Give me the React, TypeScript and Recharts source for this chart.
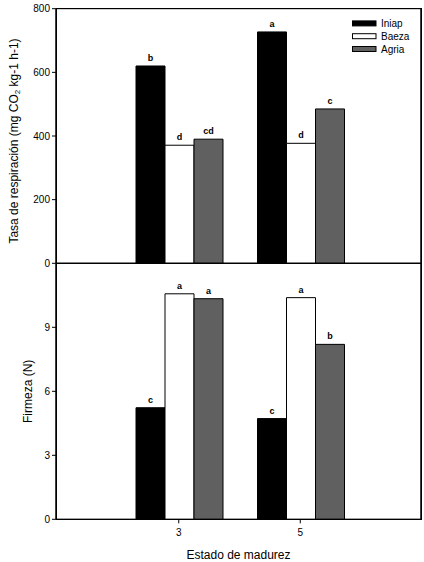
import React from 'react';
import { BarChart, Bar, XAxis, YAxis, LabelList, Legend, CartesianGrid } from 'recharts';

const stages = ['3', '5'];
const respIniap = [620, 727];
const respBaeza = [371, 377];
const respAgria = [390, 485];
const respLetters = { iniap: ['b', 'a'], baeza: ['d', 'd'], agria: ['cd', 'c'] };
const firmIniap = [5.23, 4.72];
const firmBaeza = [10.57, 10.39];
const firmAgria = [10.34, 8.2];
const firmLetters = { iniap: ['c', 'c'], baeza: ['a', 'a'], agria: ['a', 'b'] };
const respTicks = [0, 200, 400, 600, 800];
const firmTicks = [0, 3, 6, 9];
const seriesNames = ['Iniap', 'Baeza', 'Agria'];
const seriesFills = ['#000000', '#ffffff', '#606060'];

const respData = stages.map((s, i) => ({
  stage: s,
  iniap: respIniap[i],
  baeza: respBaeza[i],
  agria: respAgria[i],
  li: respLetters.iniap[i],
  lb: respLetters.baeza[i],
  la: respLetters.agria[i],
}));

const firmData = stages.map((s, i) => ({
  stage: s,
  iniap: firmIniap[i],
  baeza: firmBaeza[i],
  agria: firmAgria[i],
  li: firmLetters.iniap[i],
  lb: firmLetters.baeza[i],
  la: firmLetters.agria[i],
}));

const FONT = '"Liberation Sans", Arial, sans-serif';
const PAD = { left: 62, right: 60 };

// layout constants
const W = 424;
const M_LEFT = 8;
const Y_AXIS_W = 48;
const M_RIGHT = 2;
const R_AXIS_W = 1;
const PLOT_L = M_LEFT + Y_AXIS_W;
const PLOT_R = W - M_RIGHT - R_AXIS_W;

const H1 = 270;
const M1_TOP = 8.7;
const M1_BOTTOM = 5.7;
const X1_H = 1;
const H2 = 308;
const TOP2 = 254;
const M2_TOP = 9.3;
const M2_BOTTOM = 2.7;
const X2_H = 40;
const PLOT1_BOTTOM = H1 - M1_BOTTOM - X1_H;
const PLOT2_BOTTOM = H2 - M2_BOTTOM - X2_H;

function RespTitle(props: any) {
  const vb = props.viewBox || {};
  const cx = vb.x + 5.5;
  const cy = vb.y + vb.height / 2 + 5;
  return (
    <text
      x={cx}
      y={cy}
      transform={`rotate(-90 ${cx} ${cy})`}
      textAnchor="middle"
      dominantBaseline="central"
      fontSize={12}
      fill="#000"
      fontFamily={FONT}
    >
      Tasa de respiración (mg CO
      <tspan fontSize={8} dy={3}>2</tspan>
      <tspan dy={-3}> kg-1 h-1)</tspan>
    </text>
  );
}

function FirmTitle(props: any) {
  const vb = props.viewBox || {};
  const cx = vb.x + 20.3;
  const cy = vb.y + vb.height / 2;
  return (
    <text
      x={cx}
      y={cy}
      transform={`rotate(-90 ${cx} ${cy})`}
      textAnchor="middle"
      dominantBaseline="central"
      fontSize={12}
      fill="#000"
      fontFamily={FONT}
    >
      Firmeza (N)
    </text>
  );
}

function XTitle(props: any) {
  const vb = props.viewBox || {};
  return (
    <text
      x={vb.x + vb.width / 2}
      y={vb.y + 36}
      textAnchor="middle"
      dominantBaseline="central"
      fontSize={12}
      fill="#000"
      fontFamily={FONT}
    >
      Estado de madurez
    </text>
  );
}

function LegendBox() {
  return (
    <svg width={70} height={40} style={{ display: 'block' }}>
      {seriesNames.map((n, i) => (
        <g key={n}>
          <rect x={0.5} y={6.4 + i * 12.8 - 2.5} width={23.5} height={5} fill={seriesFills[i]} stroke="#000" strokeWidth={1} />
          <text x={29} y={6.4 + i * 12.8} dominantBaseline="central" fontSize={10} fill="#000" fontFamily={FONT}>
            {n}
          </text>
        </g>
      ))}
    </svg>
  );
}

const labelStyle = { fontSize: 9, fontWeight: 'bold' as const, fill: '#000', fontFamily: FONT };
const tickStyle = { fontSize: 10, fill: '#000', fontFamily: FONT };

export default function App() {
  const frameTop = M1_TOP - 0.5;
  const frameBottom = TOP2 + PLOT2_BOTTOM + 0.5;
  return (
    <div style={{ position: 'absolute', left: 0, top: 0, width: W, height: 562, background: '#fff', fontFamily: FONT, overflow: 'hidden' }}>
      <div style={{ position: 'absolute', left: 0, top: 0 }}>
        <BarChart
          width={W}
          height={H1}
          data={respData}
          margin={{ top: M1_TOP, right: M_RIGHT, left: M_LEFT, bottom: M1_BOTTOM }}
          barCategoryGap={18}
          barGap={0}
        >
          <CartesianGrid
            stroke="#000"
            strokeWidth={1}
            fill="none"
            horizontalPoints={[M1_TOP, PLOT1_BOTTOM]}
            verticalPoints={[PLOT_L, PLOT_R]}
          />
          <XAxis dataKey="stage" padding={PAD} tick={false} tickLine={false} height={X1_H} axisLine={{ stroke: '#000' }} />
          <YAxis
            domain={[0, 800]}
            ticks={respTicks}
            interval={0}
            width={Y_AXIS_W}
            tickSize={4}
            tick={tickStyle}
            tickLine={{ stroke: '#000' }}
            axisLine={{ stroke: '#000' }}
            label={<RespTitle />}
          />
          <YAxis
            yAxisId="right"
            orientation="right"
            domain={[0, 800]}
            width={R_AXIS_W}
            tick={false}
            tickLine={false}
            axisLine={{ stroke: '#000' }}
          />
          <Legend
            layout="horizontal"
            verticalAlign="middle"
            align="center"
            content={() => <LegendBox />}
            wrapperStyle={{ top: 16.8, left: 352, width: 70, height: 40 }}
          />
          <Bar dataKey="iniap" fill={seriesFills[0]} stroke="#000" isAnimationActive={false}>
            <LabelList dataKey="li" position="top" offset={5} style={labelStyle} />
          </Bar>
          <Bar dataKey="baeza" fill={seriesFills[1]} stroke="#000" isAnimationActive={false}>
            <LabelList dataKey="lb" position="top" offset={5} style={labelStyle} />
          </Bar>
          <Bar dataKey="agria" yAxisId="right" fill={seriesFills[2]} stroke="#000" isAnimationActive={false}>
            <LabelList dataKey="la" position="top" offset={5} style={labelStyle} />
          </Bar>
        </BarChart>
      </div>
      <div style={{ position: 'absolute', left: 0, top: TOP2 }}>
        <BarChart
          width={W}
          height={H2}
          data={firmData}
          margin={{ top: M2_TOP, right: M_RIGHT, left: M_LEFT, bottom: M2_BOTTOM }}
          barCategoryGap={18}
          barGap={0}
        >
          <CartesianGrid
            stroke="#000"
            strokeWidth={1}
            fill="none"
            horizontalPoints={[M2_TOP, PLOT2_BOTTOM]}
            verticalPoints={[PLOT_L, PLOT_R]}
          />
          <XAxis
            dataKey="stage"
            padding={PAD}
            height={X2_H}
            tickSize={4}
            tickMargin={6}
            tick={tickStyle}
            tickLine={{ stroke: '#000' }}
            axisLine={{ stroke: '#000' }}
            label={<XTitle />}
          />
          <YAxis
            domain={[0, 12]}
            ticks={firmTicks}
            interval={0}
            width={Y_AXIS_W}
            tickSize={4}
            tick={tickStyle}
            tickLine={{ stroke: '#000' }}
            axisLine={{ stroke: '#000' }}
            label={<FirmTitle />}
          />
          <YAxis
            yAxisId="right"
            orientation="right"
            domain={[0, 12]}
            width={R_AXIS_W}
            tick={false}
            tickLine={false}
            axisLine={{ stroke: '#000' }}
          />
          <Bar dataKey="iniap" fill={seriesFills[0]} stroke="#000" isAnimationActive={false}>
            <LabelList dataKey="li" position="top" offset={5} style={labelStyle} />
          </Bar>
          <Bar dataKey="baeza" fill={seriesFills[1]} stroke="#000" isAnimationActive={false}>
            <LabelList dataKey="lb" position="top" offset={5} style={labelStyle} />
          </Bar>
          <Bar dataKey="agria" yAxisId="right" fill={seriesFills[2]} stroke="#000" isAnimationActive={false}>
            <LabelList dataKey="la" position="top" offset={5} style={labelStyle} />
          </Bar>
        </BarChart>
      </div>
      <div
        style={{
          position: 'absolute',
          left: PLOT_L - 0.5,
          top: frameTop,
          width: PLOT_R - PLOT_L + 1,
          height: frameBottom - frameTop,
          border: '1px solid #000',
          boxSizing: 'border-box',
          pointerEvents: 'none',
        }}
      />
    </div>
  );
}
